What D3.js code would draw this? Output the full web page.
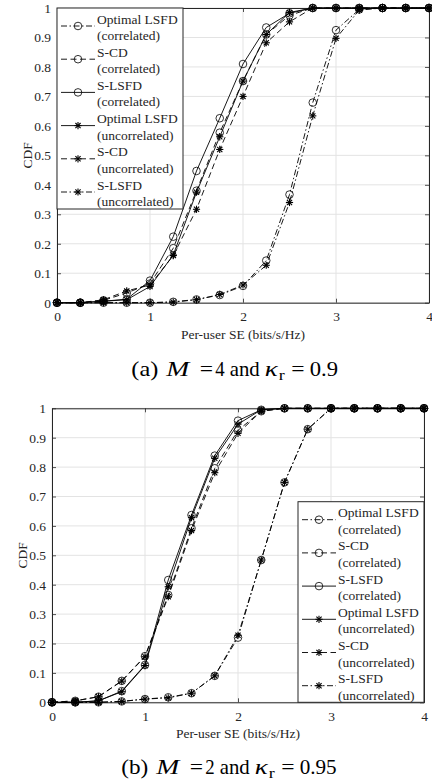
<!DOCTYPE html>
<html><head><meta charset="utf-8">
<script src="https://cdn.jsdelivr.net/npm/d3@7"></script>
<style>
html,body{margin:0;padding:0;background:#fff;}
svg{display:block;}
svg text{font-family:"Liberation Serif","Times New Roman",serif;}
</style></head>
<body>
<svg id="chart" width="432" height="781"></svg>
<script>
// ---------- data ----------
const seValues = [0,0.25,0.5,0.75,1,1.25,1.5,1.75,2,2.25,2.5,2.75,3,3.25,3.5,3.75,4];
const xTickValues = [0,1,2,3,4];
const yTickValues = [0,0.1,0.2,0.3,0.4,0.5,0.6,0.7,0.8,0.9,1];
const seriesNames = ["Optimal LSFD\n(correlated)","S-CD\n(correlated)","S-LSFD\n(correlated)",
                     "Optimal LSFD\n(uncorrelated)","S-CD\n(uncorrelated)","S-LSFD\n(uncorrelated)"];
const seriesDash = ["dashdot","dashed","solid","solid","dashed","dashdot"];
const seriesMarker = ["circle","circle","circle","star","star","star"];

// panel (a): M = 4, kappa_r = 0.9
const optCorrA  = [0,0,0,0,0,0.003,0.011,0.026,0.057,0.143,0.367,0.679,0.925,0.995,1,1,1];
const scdCorrA  = [0,0,0.008,0.033,0.065,0.185,0.38,0.577,0.752,0.91,0.975,1,1,1,1,1,1];
const slsCorrA  = [0,0,0.005,0.012,0.075,0.224,0.447,0.626,0.81,0.934,0.982,1,1,1,1,1,1];
const optUncA   = [0,0,0.005,0.01,0.055,0.162,0.375,0.563,0.752,0.91,0.985,1,1,1,1,1,1];
const scdUncA   = [0,0,0.01,0.04,0.06,0.16,0.317,0.52,0.70,0.882,0.953,1,1,1,1,1,1];
const slsUncA   = [0,0,0,0,0,0.002,0.01,0.028,0.06,0.127,0.34,0.634,0.897,0.993,1,1,1];

// panel (b): M = 2, kappa_r = 0.95
const optCorrB  = [0,0,0,0.003,0.011,0.017,0.031,0.09,0.22,0.484,0.748,0.929,1,1,1,1,1];
const scdCorrB  = [0,0.005,0.019,0.073,0.157,0.365,0.592,0.796,0.925,0.99,1,1,1,1,1,1,1];
const slsCorrB  = [0,0,0.005,0.038,0.127,0.416,0.637,0.839,0.958,0.995,1,1,1,1,1,1,1];
const optUncB   = [0,0,0.005,0.036,0.125,0.393,0.628,0.83,0.946,0.995,1,1,1,1,1,1,1];
const scdUncB   = [0,0.005,0.019,0.072,0.155,0.359,0.584,0.781,0.915,0.99,1,1,1,1,1,1,1];
const slsUncB   = [0,0,0,0.003,0.011,0.015,0.031,0.09,0.228,0.484,0.748,0.929,1,1,1,1,1];

const xLabel = "Per-user SE (bits/s/Hz)";
const yLabel = "CDF";

// ---------- drawing ----------
const svg = d3.select("#chart");
const AX = "#262626", GRID = "#e3e3e3", FS = 13.5, FONT = "Liberation Serif, Times New Roman, serif";
const dashes = {solid:null, dashed:"6,3.5", dashdot:"6,2.5,1.5,2.5"};

function drawMarker(g, type, cx, cy){
  if(type==="circle"){
    g.append("circle").attr("cx",cx).attr("cy",cy).attr("r",3.8)
      .attr("fill","none").attr("stroke","#000").attr("stroke-width",0.8);
  } else {
    const r=3.6, s=g.append("g").attr("transform",`translate(${cx},${cy})`)
      .attr("stroke","#000").attr("stroke-width",1.1);
    s.append("line").attr("x1",-r).attr("x2",r).attr("y1",0).attr("y2",0);
    s.append("line").attr("x1",0).attr("x2",0).attr("y1",-r).attr("y2",r);
    const d=r*0.72;
    s.append("line").attr("x1",-d).attr("x2",d).attr("y1",-d).attr("y2",d);
    s.append("line").attr("x1",-d).attr("x2",d).attr("y1",d).attr("y2",-d);
  }
}

function panel(cfg){
  const x = d3.scaleLinear().domain([0,4]).range([cfg.left,cfg.right]);
  const y = d3.scaleLinear().domain([0,1]).range([cfg.bottom,cfg.top]);
  const g = svg.append("g").attr("font-family",FONT);
  // grid
  g.append("g").selectAll("line").data(xTickValues).join("line")
    .attr("x1",d=>x(d)).attr("x2",d=>x(d)).attr("y1",cfg.top).attr("y2",cfg.bottom)
    .attr("stroke",GRID).attr("stroke-width",1);
  g.append("g").selectAll("line").data(yTickValues).join("line")
    .attr("x1",cfg.left).attr("x2",cfg.right).attr("y1",d=>y(d)).attr("y2",d=>y(d))
    .attr("stroke",GRID).attr("stroke-width",1);
  // axes via d3.axis (inward ticks)
  const tk=4;
  const xb = g.append("g").attr("transform",`translate(0,${cfg.bottom})`)
    .call(d3.axisBottom(x).tickValues(xTickValues).tickFormat(d3.format("d")).tickSizeInner(-tk).tickSizeOuter(0).tickPadding(9));
  const xt = g.append("g").attr("transform",`translate(0,${cfg.top})`)
    .call(d3.axisTop(x).tickValues(xTickValues).tickFormat("").tickSizeInner(-tk).tickSizeOuter(0));
  const yl = g.append("g").attr("transform",`translate(${cfg.left},0)`)
    .call(d3.axisLeft(y).tickValues(yTickValues).tickFormat(d=>d===0?"0":d===1?"1":d3.format(".1f")(d)).tickSizeInner(-tk).tickSizeOuter(0).tickPadding(6));
  const yr = g.append("g").attr("transform",`translate(${cfg.right},0)`)
    .call(d3.axisRight(y).tickValues(yTickValues).tickFormat("").tickSizeInner(-tk).tickSizeOuter(0));
  [xb,xt,yl,yr].forEach(a=>{
    a.attr("font-family",FONT).attr("font-size",FS);
    a.select(".domain").attr("stroke",AX).attr("stroke-width",1);
    a.selectAll(".tick line").attr("stroke",AX).attr("stroke-width",0.8);
    a.selectAll("text").attr("fill",AX).attr("font-size",FS).attr("font-family",FONT);
  });
  // labels
  g.append("text").attr("x",(cfg.left+cfg.right)/2).attr("y",cfg.bottom+36)
    .attr("text-anchor","middle").attr("font-size",FS).attr("fill",AX).text(xLabel);
  g.append("text").attr("transform",`translate(${cfg.left-25},${(cfg.top+cfg.bottom)/2}) rotate(-90)`)
    .attr("text-anchor","middle").attr("font-size",FS).attr("fill",AX).text(yLabel);
  // series
  const line = d3.line().x((d,i)=>x(seValues[i])).y(d=>y(d));
  cfg.series.forEach((vals,k)=>{
    g.append("path").attr("d",line(vals)).attr("fill","none").attr("stroke","#000")
      .attr("stroke-width",0.9).attr("stroke-dasharray",dashes[seriesDash[k]]);
  });
  cfg.series.forEach((vals,k)=>{
    const mg=g.append("g");
    vals.forEach((v,i)=>drawMarker(mg,seriesMarker[k],x(seValues[i]),y(v)));
  });
  // legend
  const L=cfg.legend;
  const lg=g.append("g");
  lg.append("rect").attr("x",L.x).attr("y",L.y).attr("width",L.w).attr("height",L.h)
    .attr("fill","#fff").attr("stroke",AX).attr("stroke-width",1);
  seriesNames.forEach((nm,k)=>{
    const cy=L.y+18+k*33.2;
    lg.append("line").attr("x1",L.x+4).attr("x2",L.x+38).attr("y1",cy).attr("y2",cy)
      .attr("stroke","#000").attr("stroke-width",0.9).attr("stroke-dasharray",dashes[seriesDash[k]]);
    drawMarker(lg,seriesMarker[k],L.x+21,cy);
    const parts=nm.split("\n");
    const t=lg.append("text").attr("font-size",FS).attr("fill",AX);
    t.append("tspan").attr("x",L.x+40).attr("y",cy-2.5).text(parts[0]);
    t.append("tspan").attr("x",L.x+40).attr("y",cy+14).text(parts[1]);
  });
  // caption (pieces placed from left start s, widths matched to the reference)
  const s=cfg.capStart, cy=cfg.capY, CF=21;
  const cap=g.append("g").attr("font-size",CF).attr("fill","#000");
  const put=(dx,txt,w,opt={})=>{
    const t=cap.append("text").attr("x",s+dx).attr("y",cy+(opt.dy||0)).text(txt)
      .attr("textLength",w).attr("lengthAdjust","spacingAndGlyphs");
    if(opt.italic) t.attr("font-style","italic");
    if(opt.fs) t.attr("font-size",opt.fs);
  };
  put(0,cfg.capLetter,27);
  put(35,"M",23,{italic:true});
  put(68.4,"=",13.3);
  put(84,cfg.capM,9.4);
  put(98.4,"and",30);
  put(133.4,"\u03ba",13,{italic:true});
  put(147.4,"r",6,{fs:14,dy:4});
  put(160,"=",13.3);
  put(178.4,cfg.capK,cfg.capK.length>3?37:28.3);
}

panel({left:57,right:429,top:8,bottom:302.7,
  series:[optCorrA,scdCorrA,slsCorrA,optUncA,scdUncA,slsUncA],
  legend:{x:57,y:8,w:126,h:201},
  capStart:131.3,capY:376,capLetter:"(a)",capM:"4",capK:"0.9"});
panel({left:52,right:424,top:408.3,bottom:702.3,
  series:[optCorrB,scdCorrB,slsCorrB,optUncB,scdUncB,slsUncB],
  legend:{x:298,y:501.7,w:126,h:200.6},
  capStart:121.3,capY:774,capLetter:"(b)",capM:"2",capK:"0.95"});
</script>
</body></html>
